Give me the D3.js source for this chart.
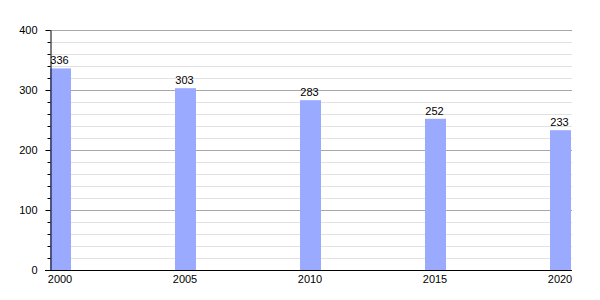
<!DOCTYPE html>
<html>
<head>
<meta charset="utf-8">
<script src="https://cdn.jsdelivr.net/npm/d3@7"></script>
<style>
  body { margin: 0; background: #fff; }
  text { font-family: "Liberation Sans", Arial, sans-serif; }
</style>
</head>
<body>
<div id="chart"></div>
<script>
var years = [2000, 2005, 2010, 2015, 2020];
var values = [336, 303, 283, 252, 233];
var yMajor = [0, 100, 200, 300, 400];
var yMinor = d3.range(0, 401, 20).filter(function(d){ return d % 100 != 0; });

var width = 600, height = 300;
var plotLeft = 50, plotRight = 572, plotTop = 30, plotBottom = 270;
var barW = 21;

var svg = d3.select("#chart").append("svg")
    .attr("width", width)
    .attr("height", height);

var x = d3.scaleLinear().domain([2000, 2020]).range([plotLeft, 550]);
var y = d3.scaleLinear().domain([0, 400]).range([plotBottom, plotTop]);

// minor grid
svg.append("g").selectAll("line").data(yMinor).enter().append("line")
    .attr("x1", plotLeft).attr("x2", plotRight)
    .attr("y1", function(d){ return Math.round(y(d)) + 0.5; })
    .attr("y2", function(d){ return Math.round(y(d)) + 0.5; })
    .attr("stroke", "#e2e2e2");

// major grid
svg.append("g").selectAll("line").data(yMajor.slice(1)).enter().append("line")
    .attr("x1", plotLeft).attr("x2", plotRight)
    .attr("y1", function(d){ return Math.round(y(d)) + 0.5; })
    .attr("y2", function(d){ return Math.round(y(d)) + 0.5; })
    .attr("stroke", "#a8a8a8");

// bars
svg.append("g").selectAll("rect").data(values).enter().append("rect")
    .attr("x", function(d, i){ return x(years[i]); })
    .attr("y", function(d){ return y(d); })
    .attr("width", barW)
    .attr("height", function(d){ return y(0) - y(d); })
    .attr("fill", "#99aaff");

// value labels
svg.append("g").selectAll("text").data(values).enter().append("text")
    .attr("x", function(d, i){ return x(years[i]) + barW / 2 - 1; })
    .attr("y", function(d){ return y(d) - 4; })
    .attr("text-anchor", "middle")
    .attr("font-size", "11px")
    .attr("fill", "#000")
    .text(function(d){ return d; });

// y axis minor ticks
svg.append("g")
    .attr("transform", "translate(" + (plotLeft + 0.5) + ",0)")
    .call(d3.axisLeft(y).tickValues(yMinor).tickSize(3).tickFormat(""))
    .call(function(g){ g.select(".domain").remove(); });

// y axis major
var yAxis = svg.append("g")
    .attr("transform", "translate(" + (plotLeft + 0.5) + ",0)")
    .call(d3.axisLeft(y).tickValues(yMajor).tickSize(5).tickPadding(8).tickSizeOuter(0));
yAxis.selectAll("text").attr("font-size", "11px").attr("font-family", "Liberation Sans, Arial, sans-serif").attr("fill", "#000");
yAxis.select(".domain").attr("stroke", "#000");

// x axis
var xAxis = svg.append("g")
    .attr("transform", "translate(" + (barW / 2 - 1) + "," + (plotBottom + 0.5) + ")")
    .call(d3.axisBottom(x).tickValues(years).tickFormat(d3.format("d")).tickSize(0).tickPadding(5));
xAxis.select(".domain").remove();
xAxis.selectAll("text").attr("font-size", "11px").attr("font-family", "Liberation Sans, Arial, sans-serif").attr("fill", "#000");

svg.append("line")
    .attr("x1", 45).attr("x2", plotRight)
    .attr("y1", plotBottom + 0.5).attr("y2", plotBottom + 0.5)
    .attr("stroke", "#000");
</script>
</body>
</html>
